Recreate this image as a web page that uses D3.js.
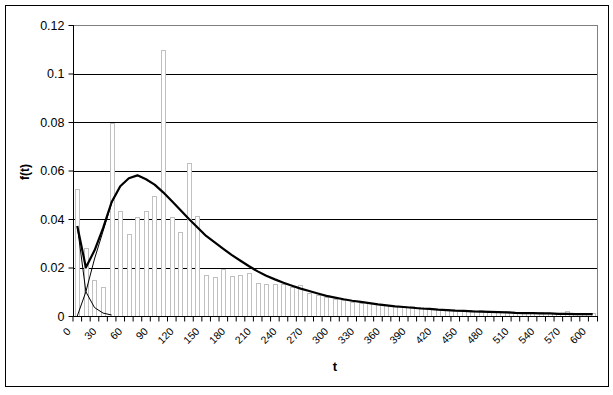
<!DOCTYPE html>
<html>
<head>
<meta charset="utf-8">
<script src="https://cdn.jsdelivr.net/npm/d3@7"></script>
<style>
  body { margin: 0; background: #fff; }
  text { font-family: Arial, "Liberation Sans", sans-serif; fill: #000; }
</style>
</head>
<body>
<div id="chart"></div>
<script>
const width = 613
const height = 395
const plot = { left: 73, right: 597, top: 25, bottom: 316 }

// categories t = 0, 10, ..., 600
const categories = d3.range(0, 610, 10)
const tickLabels = [0, 30, 60, 90, 120, 150, 180, 210, 240, 270, 300, 330, 360, 390, 420, 450, 480, 510, 540, 570, 600]
const yTicks = [0, 0.02, 0.04, 0.06, 0.08, 0.1, 0.12]

// histogram of observed f(t)
const observed = [
  0.0522, 0.0279, 0.0147, 0.0120, 0.0794, 0.0435, 0.0337, 0.0407, 0.0431, 0.0493,
  0.1095, 0.0407, 0.0346, 0.0629, 0.0411, 0.0170, 0.0162, 0.0195, 0.0167, 0.0171,
  0.0179, 0.0137, 0.0133, 0.0133, 0.0130, 0.0119, 0.0129, 0.0093, 0.0085, 0.0080,
  0.0072, 0.0067, 0.0059, 0.0055, 0.0052, 0.0049, 0.0046, 0.0043, 0.0040, 0.0042,
  0.0036, 0.0032, 0.0029, 0.0030, 0.0025, 0.0024, 0.0025, 0.0023, 0.0021, 0.0021,
  0.0020, 0.0017, 0.0017, 0.0016, 0.0016, 0.0014, 0.0014, 0.0019, 0.0014, 0.0013,
  0.0014
]

// fitted mixture (thick line)
const mixture = [
  0.0371, 0.0200, 0.0270, 0.0362, 0.0470, 0.0535, 0.0568, 0.0580, 0.0564, 0.0542,
  0.0510, 0.0474, 0.0437, 0.0400, 0.0365, 0.0330, 0.0304, 0.0277, 0.0251, 0.0228,
  0.0205, 0.0184, 0.0166, 0.0151, 0.0137, 0.0125, 0.0113, 0.0103, 0.0093, 0.0083,
  0.0076, 0.0069, 0.0063, 0.0058, 0.0053, 0.0048, 0.0044, 0.0040, 0.0037, 0.0034,
  0.0031, 0.0029, 0.0026, 0.0024, 0.0022, 0.0021, 0.0019, 0.0018, 0.0017, 0.0016,
  0.0015, 0.0013, 0.0012, 0.0012, 0.0011, 0.0011, 0.0009, 0.0009, 0.0008, 0.0008,
  0.0008
]

// the two components (thin lines)
const component1 = [0.0371, 0.0100, 0.0035, 0.0012, 0.0004]
const component2 = [0.0000, 0.0100, 0.0235, 0.0350, 0.0466, 0.0534, 0.0568]

var x = d3.scaleBand(categories, [plot.left, plot.right])
var y = d3.scaleLinear([0, 0.12], [plot.bottom, plot.top])
const cx = (i) => x(categories[i]) + x.bandwidth() / 2

var svg = d3.select("#chart").append("svg")
  .attr("width", width)
  .attr("height", height)

// outer chart border
svg.append("rect")
  .attr("x", 5.5).attr("y", 5.5)
  .attr("width", 603).attr("height", 381)
  .style("fill", "white").style("stroke", "black")

// plot area border
svg.append("rect")
  .attr("x", plot.left + 0.5).attr("y", plot.top + 0.5)
  .attr("width", plot.right - plot.left).attr("height", plot.bottom - plot.top)
  .style("fill", "white").style("stroke", "#808080")

// gridlines
svg.append("g")
  .selectAll("line")
  .data(yTicks.filter((d) => d > 0 && d < 0.12))
  .enter()
  .append("line")
  .attr("x1", plot.left).attr("x2", plot.right)
  .attr("y1", (d) => Math.round(y(d)) + 0.5)
  .attr("y2", (d) => Math.round(y(d)) + 0.5)
  .style("stroke", "black")

// bars
svg.append("g")
  .selectAll("rect")
  .data(observed)
  .enter()
  .append("rect")
  .attr("x", (_d, i) => Math.round(cx(i) - x.bandwidth() / 4) + 0.5)
  .attr("y", (d) => Math.round(y(d)) + 0.5)
  .attr("width", Math.round(x.bandwidth() / 2))
  .attr("height", (d) => plot.bottom - Math.round(y(d)))
  .style("fill", "white")
  .style("stroke", "#c0c0c0")

// lines
const line = d3.line().x((_d, i) => cx(i)).y((d) => y(d))
svg.append("path").datum(component1).attr("d", line)
  .style("fill", "none").style("stroke", "black").style("stroke-width", 1)
svg.append("path").datum(component2).attr("d", line)
  .style("fill", "none").style("stroke", "black").style("stroke-width", 1)
svg.append("path").datum(mixture).attr("d", line)
  .style("fill", "none").style("stroke", "black").style("stroke-width", 2.2)
  .style("stroke-linejoin", "round")

// y axis
var yAxis = d3.axisLeft(y).tickValues(yTicks).tickSize(5).tickPadding(4)
  .tickFormat((d) => String(d))
svg.append("g")
  .attr("transform", `translate(${plot.left + 0.5},0)`)
  .call(yAxis)
  .call((g) => g.select(".domain").attr("d", `M0,${plot.top}V${plot.bottom + 0.5}`))
  .call((g) => g.selectAll(".tick line").attr("stroke", "black"))
  .call((g) => g.selectAll(".tick text").style("font-size", "12.5px").attr("font-family", null))

// x axis: tick marks on category boundaries
var xTicks = d3.axisBottom(x).tickSize(5).tickFormat("")
svg.append("g")
  .attr("transform", `translate(${-x.bandwidth() / 2},${plot.bottom + 0.5})`)
  .call(xTicks)
  .call((g) => g.select(".domain").remove())
svg.append("line")
  .attr("x1", plot.right + 0.5).attr("x2", plot.right + 0.5)
  .attr("y1", plot.bottom).attr("y2", plot.bottom + 5.5)
  .style("stroke", "black")
svg.append("line")
  .attr("x1", plot.left).attr("x2", plot.right + 1)
  .attr("y1", plot.bottom + 0.5).attr("y2", plot.bottom + 0.5)
  .style("stroke", "black")

// x labels, every third category, rotated
svg.append("g")
  .selectAll("text")
  .data(tickLabels)
  .enter()
  .append("text")
  .attr("transform", (d) => `translate(${x(d) + x.bandwidth() / 2 - 6},332) rotate(-45)`)
  .attr("text-anchor", "end")
  .style("font-size", "10.5px")
  .text((d) => d)

// axis titles
svg.append("text")
  .attr("x", (plot.left + plot.right) / 2)
  .attr("y", 371)
  .attr("text-anchor", "middle")
  .style("font-size", "13px")
  .style("font-weight", "bold")
  .text("t")

svg.append("text")
  .attr("transform", `translate(29,172) rotate(-90)`)
  .attr("text-anchor", "middle")
  .style("font-size", "12px")
  .style("font-weight", "bold")
  .text("f(t)")
</script>
</body>
</html>
